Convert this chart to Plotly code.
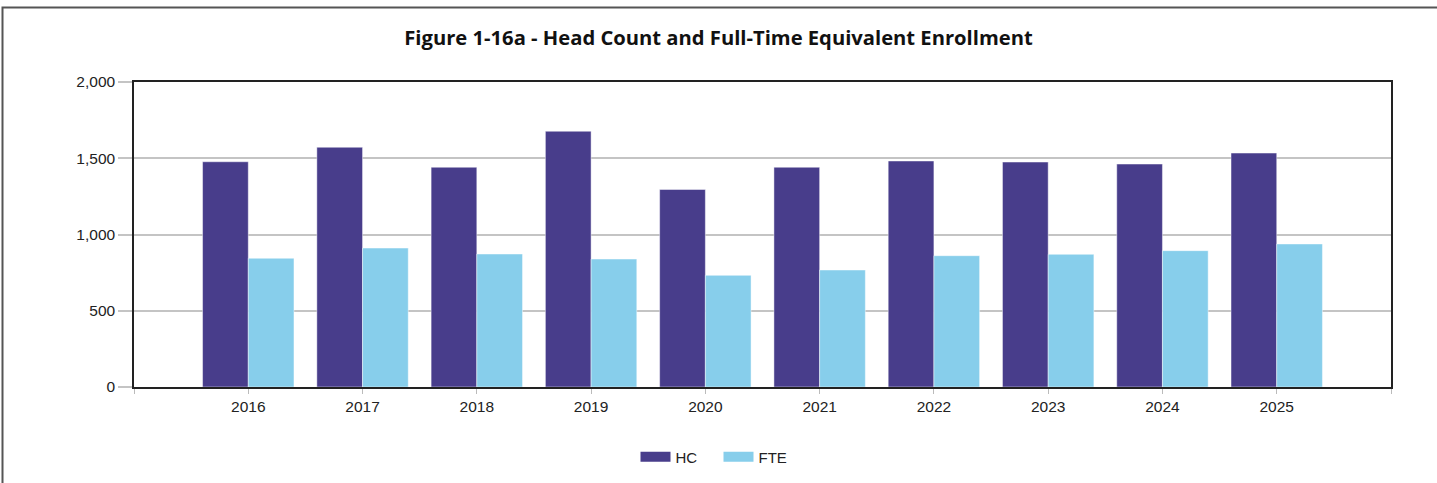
import plotly.graph_objects as go

years = [2016, 2017, 2018, 2019, 2020, 2021, 2022, 2023, 2024, 2025]
hc = [1477, 1572, 1441, 1677, 1295, 1441, 1482, 1475, 1462, 1534]
fte = [844, 911, 872, 839, 732, 767, 861, 870, 894, 938]
y_ticks = [0, 500, 1000, 1500, 2000]

HC_COLOR = "#483D8B"
FTE_COLOR = "#87CEEB"

W, H = 1437, 483
L, R, T, B = 134, 1391, 82, 387

fig = go.Figure()
fig.add_trace(go.Bar(x=years, y=hc, name="HC", marker=dict(color=HC_COLOR, line=dict(color="rgba(255,255,255,0.45)", width=1)), showlegend=False))
fig.add_trace(go.Bar(x=years, y=fte, name="FTE", marker=dict(color=FTE_COLOR, line=dict(color="rgba(255,255,255,0.45)", width=1)), showlegend=False))
# legend swatches
fig.add_trace(go.Scatter(x=[None], y=[None], mode="lines", name="HC", line=dict(color=HC_COLOR, width=14)))
fig.add_trace(go.Scatter(x=[None], y=[None], mode="lines", name="FTE", line=dict(color=FTE_COLOR, width=14)))

pw = R - L
ph = B - T
def px(x):
    return (x - L) / pw
def py(y):
    return (B - y) / ph

fig.update_layout(
    width=W, height=H,
    margin=dict(l=L, r=W - R, t=T, b=H - B),
    paper_bgcolor="white", plot_bgcolor="white",
    barmode="group", bargap=0.2, bargroupgap=0,
    font=dict(family="Arial, Liberation Sans, sans-serif", size=15.5, color="#222"),
    title=dict(text="<b>Figure 1-16a - Head Count and Full-Time Equivalent Enrollment</b>",
               x=0.5, xanchor="center", y=1 - 38 / H, yanchor="middle",
               font=dict(family="Open Sans, sans-serif", size=20.2, color="#111")),
    legend=dict(orientation="h", xref="container", yref="container", x=0.5, xanchor="center",
                y=1 - 457 / H, yanchor="middle", itemwidth=30, entrywidth=38,
                font=dict(size=15, color="#222")),
    xaxis=dict(range=[min(years) - 1, max(years) + 1],
               tickmode="array", tickvals=[min(years) - 1] + years + [max(years) + 1],
               ticktext=[""] + [str(y) for y in years] + [""],
               ticks="outside", ticklen=5, tickcolor="#bbb", tickwidth=1,
               showgrid=False, zeroline=False,
               showline=True, linecolor="#222", linewidth=1.5, mirror=True),
    yaxis=dict(range=[0, 2000], tickmode="array", tickvals=y_ticks,
               tickformat=",", ticks="outside", ticklen=14, tickcolor="#c4c4c4", tickwidth=1.5,
               showgrid=True, gridcolor="#c4c4c4", gridwidth=1.5, zeroline=False,
               showline=True, linecolor="#222", linewidth=1.5, mirror=True),
    shapes=[dict(type="rect", xref="paper", yref="paper",
                 x0=px(2.5), x1=px(W + 20), y0=py(H + 20), y1=py(7.5),
                 line=dict(color="#555", width=2), fillcolor="rgba(0,0,0,0)", layer="above")],
)

fig.write_html("out.html", config={"displayModeBar": False},
               post_script="document.body.style.margin='0';document.body.style.overflow='hidden';")
